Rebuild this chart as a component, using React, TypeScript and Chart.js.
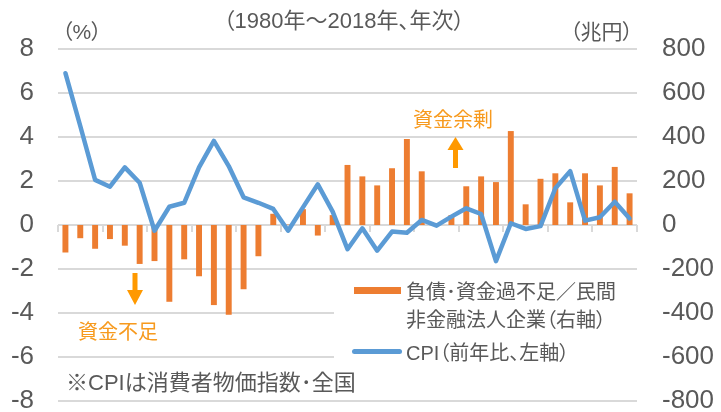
import React, { useEffect, useRef } from "react";
import { Chart, registerables } from "chart.js";

Chart.register(...registerables);

const years = [
  "1980", "1981", "1982", "1983", "1984", "1985", "1986", "1987", "1988", "1989",
  "1990", "1991", "1992", "1993", "1994", "1995", "1996", "1997", "1998", "1999",
  "2000", "2001", "2002", "2003", "2004", "2005", "2006", "2007", "2008", "2009",
  "2010", "2011", "2012", "2013", "2014", "2015", "2016", "2017", "2018",
];

// 負債・資金過不足／民間非金融法人企業（兆円, 右軸）
const fundBalance = [
  -125, -60, -108, -64, -94, -177, -164, -349, -156, -233,
  -364, -408, -292, -142, 51, 2, 72, -48, 45, 273,
  221, 180, 258, 391, 244, 5, 45, 176, 221, 195,
  427, 94, 210, 235, 103, 235, 180, 264, 144,
];

// CPI（前年比 %, 左軸）
const cpi = [
  6.9, 4.5, 2.05, 1.74, 2.62, 1.92, -0.26, 0.83, 1.01, 2.62,
  3.82, 2.68, 1.26, 1.01, 0.73, -0.26, 0.8, 1.85, 0.61, -1.1,
  -0.15, -1.17, -0.3, -0.35, 0.23, -0.03, 0.38, 0.76, 0.5, -1.64,
  0.08, -0.18, -0.05, 1.67, 2.45, 0.2, 0.35, 1.06, 0.3,
];

const leftMin = -8;
const leftMax = 8;
const leftStep = 2;
const rightMin = -800;
const rightMax = 800;
const rightStep = 200;
const tickEvery = 3;

const FONT = "'Liberation Sans', Arial, 'Noto Sans CJK JP', sans-serif";
const GRAY = "#595959";
const GRID = "#D9D9D9";
const BAR = "#ED7D31";
const LINE = "#5B9BD5";
const ANNOT = "#F79A1E";
const ARROW = "#FF9900";

const categoryAxisPlugin = {
  id: "categoryAxis",
  beforeDatasetsDraw(chart: any) {
    const xs = chart.scales.x;
    const ys = chart.scales.y;
    const ctx = chart.ctx;
    const y0 = ys.getPixelForValue(0);
    const half = (xs.getPixelForValue(1) - xs.getPixelForValue(0)) / 2;
    ctx.save();
    ctx.strokeStyle = GRID;
    ctx.lineWidth = 2;
    for (let i = 0; i <= years.length; i += tickEvery) {
      const px = Math.round(xs.getPixelForValue(i) - half);
      ctx.beginPath();
      ctx.moveTo(px, y0);
      ctx.lineTo(px, y0 + 7);
      ctx.stroke();
    }
    ctx.restore();
  },
};

const abs = (o: React.CSSProperties): React.CSSProperties => ({
  position: "absolute",
  fontFamily: FONT,
  whiteSpace: "nowrap",
  fontFeatureSettings: '"palt"',
  ...o,
});

export default function App() {
  const ref = useRef<HTMLCanvasElement | null>(null);

  useEffect(() => {
    if (!ref.current) return;
    const chart = new Chart(ref.current, {
      type: "bar",
      data: {
        labels: years,
        datasets: [
          {
            type: "line",
            label: "CPI（前年比、左軸）",
            data: cpi,
            yAxisID: "y",
            borderColor: LINE,
            backgroundColor: LINE,
            borderWidth: 4.5,
            pointRadius: 0,
            tension: 0,
            borderJoinStyle: "round",
            borderCapStyle: "round",
            order: 0,
          } as any,
          {
            type: "bar",
            label: "負債・資金過不足／民間非金融法人企業（右軸）",
            data: fundBalance,
            yAxisID: "y1",
            backgroundColor: BAR,
            borderWidth: 0,
            categoryPercentage: 1,
            barPercentage: 0.4,
            order: 1,
          },
        ],
      },
      options: {
        responsive: false,
        animation: false,
        devicePixelRatio: 1,
        layout: { padding: { top: 49, bottom: 11, left: 0, right: 0 } },
        plugins: {
          legend: { display: false },
          tooltip: { enabled: false },
          title: { display: false },
        },
        scales: {
          x: { type: "category", display: false, offset: true },
          y: {
            position: "left",
            min: leftMin,
            max: leftMax,
            ticks: {
              stepSize: leftStep,
              padding: 24,
              color: GRAY,
              font: { size: 26, family: FONT },
            },
            grid: { color: GRID, lineWidth: 2, drawTicks: false },
            border: { display: false },
            afterFit(s: any) {
              s.width = 58;
              s.paddingTop = 0;
              s.paddingBottom = 0;
            },
          },
          y1: {
            position: "right",
            min: rightMin,
            max: rightMax,
            ticks: {
              stepSize: rightStep,
              padding: 25,
              color: GRAY,
              font: { size: 26, family: FONT },
            },
            grid: { display: false, drawTicks: false },
            border: { display: false },
            afterFit(s: any) {
              s.width = 84;
              s.paddingTop = 0;
              s.paddingBottom = 0;
            },
          },
        },
      },
      plugins: [categoryAxisPlugin],
    });
    return () => chart.destroy();
  }, []);

  return (
    <div style={{ position: "absolute", left: 0, top: 0, width: 721, height: 412, background: "#fff", overflow: "hidden" }}>
      <canvas ref={ref} width={721} height={412} style={{ position: "absolute", left: 0, top: 0, width: 721, height: 412 }} />

      {/* top texts */}
      <div style={abs({ left: 0, width: 688, top: 10, fontSize: 22, lineHeight: "22px", color: GRAY, textAlign: "center" })}>
        （1980年～2018年、年次）
      </div>
      <div style={abs({ left: 62, top: 21, fontSize: 21, lineHeight: "21px", color: GRAY })}>（%）</div>
      <div style={abs({ left: 570, top: 21, fontSize: 21, lineHeight: "21px", color: GRAY })}>（兆円）</div>

      {/* annotations */}
      <div style={abs({ left: 413, top: 110, fontSize: 20, lineHeight: "20px", color: ANNOT })}>資金余剰</div>
      <svg style={{ position: "absolute", left: 445, top: 135 }} width={20} height={36}>
        <polygon points="2.5,15 10.5,2 18.5,15" fill={ARROW} />
        <rect x={8} y={14} width={5} height={19} fill={ARROW} />
      </svg>

      <div style={abs({ left: 78, top: 322, fontSize: 20, lineHeight: "20px", color: ANNOT })}>資金不足</div>
      <svg style={{ position: "absolute", left: 125, top: 271 }} width={20} height={36}>
        <rect x={7.5} y={2} width={5} height={18} fill={ARROW} />
        <polygon points="2,19 18,19 10,34" fill={ARROW} />
      </svg>

      {/* legend */}
      <div style={{ position: "absolute", left: 334, top: 277, width: 303, height: 86, background: "#fff" }} />
      <div style={{ position: "absolute", left: 354, top: 287, width: 47, height: 7, background: BAR }} />
      <div style={abs({ left: 406, top: 278, fontSize: 20, lineHeight: "28px", color: GRAY })}>
        負債･資金過不足／民間
        <br />
        非金融法人企業（右軸）
      </div>
      <div style={{ position: "absolute", left: 352, top: 349, width: 50, height: 4.5, borderRadius: 3, background: LINE }} />
      <div style={abs({ left: 406, top: 342, fontSize: 20, lineHeight: "22px", color: GRAY })}>CPI（前年比、左軸）</div>

      {/* note */}
      <div style={abs({ left: 66, top: 372, fontSize: 22, lineHeight: "22px", color: GRAY })}>※CPIは消費者物価指数･全国</div>
    </div>
  );
}
